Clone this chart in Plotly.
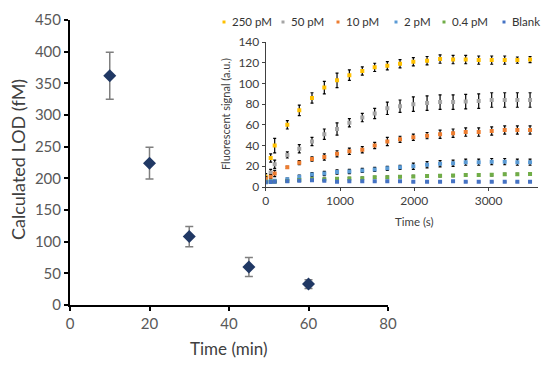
import plotly.graph_objects as go

# ---- main chart data ----
lod_time_min = [10, 20, 30, 45, 60]
lod_fm = [362, 224, 108, 60, 33]
lod_err = [37, 25, 16, 15, 7]

# ---- inset data ----
inset_time_s = [0, 67, 121, 291, 452, 623, 789, 960, 1126, 1300, 1467, 1637,
                1808, 1987, 2172, 2347, 2522, 2692, 2867, 3042, 3217, 3387, 3558]
series_names = ["250 pM", "50 pM", "10 pM", "2 pM", "0.4 pM", "Blank"]
sig_250 = [10, 28, 40, 60, 74, 86, 96, 103, 108, 112, 115.5, 117, 119, 121, 122,
           123.5, 123, 123, 122.5, 122.5, 122.5, 122.5, 123]
err_250 = [3, 4, 7, 4, 5, 5, 6, 7, 5, 4, 4, 4, 4, 4, 4, 4, 4, 4, 4, 4, 4, 3, 3]
sig_50 = [8, 14, 22, 31, 37, 44, 51, 56, 62, 67, 71, 76, 78, 80, 81, 82, 82,
          82.5, 83, 84, 84, 84, 84]
err_50 = [2, 3, 4, 3, 4, 4, 5, 6, 4, 4, 5, 6, 6, 7, 7, 7, 7, 7, 7, 7, 7, 7, 7]
sig_10 = [8, 10, 13, 19, 23.5, 27, 29, 32, 34.5, 36, 40, 44, 46, 48, 49.6, 51,
          52, 53, 53, 54, 55, 55, 55]
err_10 = [2, 2, 3, 1, 2, 2, 3, 3, 3, 3, 3, 4, 3, 3, 3, 4, 4, 4, 4, 4, 4, 4, 4]
sig_2 = [5, 5.5, 6, 7.5, 10, 12, 13, 14.5, 15, 16, 17, 18, 19, 20, 21.5, 22.5,
         23, 24, 24, 24.5, 24.5, 24, 24]
err_2 = [1, 1, 1, 1, 1.5, 2, 2, 2, 2, 2, 2, 2, 2, 3, 3, 3, 3, 3, 3, 3, 3, 3, 3]
sig_04 = [5, 5, 5, 5.8, 6.8, 7.4, 7.6, 8, 8.3, 8.5, 9.3, 9.5, 10, 10.2, 10.6,
          10.8, 11, 11.6, 11.6, 11.8, 12.3, 12.3, 12.5]
err_04 = [0.5, 0.5, 0.5, 1, 1, 1, 1, 1, 1, 1, 1, 1, 1, 1, 1, 1, 1, 1, 1, 1, 1, 1, 1]
sig_blank = [4.5, 4.8, 5, 5.5, 6, 6.5, 6, 5, 5.5, 5.5, 5.5, 5.5, 5.5, 5, 5, 5,
             5.5, 5, 5, 5, 5, 5, 5]
err_blank = [0.5] * 23
series_vals = [sig_250, sig_50, sig_10, sig_2, sig_04, sig_blank]
series_errs = [err_250, err_50, err_10, err_2, err_04, err_blank]
series_colors = ["#FFC000", "#A5A5A5", "#ED7D31", "#5B9BD5", "#70AD47", "#4472C4"]

FONT = "Lato"
W, H = 550, 365

def px_x(p):
    return p / W

def px_y(p):
    return (H - p) / H

fig = go.Figure()

fig.add_trace(go.Scatter(
    x=lod_time_min, y=lod_fm, mode="markers",
    marker=dict(symbol="diamond", size=10, color="#203864"),
    error_y=dict(type="data", array=lod_err, color="#7F7F7F", thickness=1.5, width=4),
    xaxis="x", yaxis="y", showlegend=False))

for name, vals, errs, col in zip(series_names, series_vals, series_errs, series_colors):
    fig.add_trace(go.Scatter(
        x=inset_time_s, y=vals, mode="markers", name=name,
        marker=dict(symbol="square", size=4, color=col),
        error_y=dict(type="data", array=errs, color="#000000", thickness=1.2, width=1.5),
        xaxis="x2", yaxis="y2", showlegend=False))

# manual legend for inset
leg_x = [224, 283, 338, 396, 444, 504]
for name, col, lx in zip(series_names, series_colors, leg_x):
    fig.add_shape(type="rect", xref="paper", yref="paper",
                  x0=px_x(lx - 1.5), x1=px_x(lx + 1.5), y0=px_y(23.5), y1=px_y(20.5),
                  fillcolor=col, line=dict(width=0))
    fig.add_annotation(x=px_x(lx + 6), y=px_y(22), xref="paper", yref="paper",
                       text=name, showarrow=False, xanchor="left", yanchor="middle",
                       font=dict(family=FONT, size=11.5, color="#333333"))

# axis titles
titles = [
    ("Calculated LOD (fM)", 18, 160, 18, -90),
    ("Time (min)", 229, 348, 17, 0),
    ("Time (s)", 414, 222, 11.5, 0),
    ("Fluorescent signal (a.u.)", 225, 114, 11, -90),
]
for txt, tx, ty, fs, ang in titles:
    fig.add_annotation(x=px_x(tx), y=px_y(ty), xref="paper", yref="paper", text=txt,
                       showarrow=False, xanchor="center", yanchor="middle", textangle=ang,
                       font=dict(family=FONT, size=fs, color="#404040"))

axis_common = dict(showgrid=False, zeroline=False, showline=True, automargin=False)

fig.update_layout(
    template="none",
    width=W, height=H, margin=dict(l=0, r=0, t=0, b=0),
    paper_bgcolor="white", plot_bgcolor="rgba(0,0,0,0)",
    font=dict(family=FONT, color="#595959"),
    xaxis=dict(domain=[px_x(70), px_x(388)], range=[0, 80], tickvals=[0, 20, 40, 60, 80],
               linecolor="black", linewidth=2,
               ticks="outside", ticklen=4, tickcolor="black", tickwidth=1.5,
               tickfont=dict(size=15, color="#595959"),
               anchor="y", **axis_common),
    yaxis=dict(domain=[px_y(305), px_y(20)], range=[0, 450], dtick=50,
               linecolor="black", linewidth=2,
               ticks="outside", ticklen=4, tickcolor="black", tickwidth=1.5,
               tickfont=dict(size=15, color="#595959"),
               anchor="x", **axis_common),
    xaxis2=dict(domain=[px_x(265.7), px_x(538)], range=[0, 3665], tickvals=[0, 1000, 2000, 3000],
                linecolor="#404040", linewidth=1,
                ticks="outside", ticklen=3, tickcolor="#404040",
                tickfont=dict(size=12, color="#404040"),
                anchor="y2", **axis_common),
    yaxis2=dict(domain=[px_y(187), px_y(42)], range=[0, 140], dtick=20,
                linecolor="#404040", linewidth=1,
                ticks="outside", ticklen=3, tickcolor="#404040",
                tickfont=dict(size=12, color="#404040"),
                anchor="x2", **axis_common),
)

fig.write_html("out.html", config={"displayModeBar": False},
               post_script="document.body.style.margin='0';document.body.style.overflow='hidden';")
